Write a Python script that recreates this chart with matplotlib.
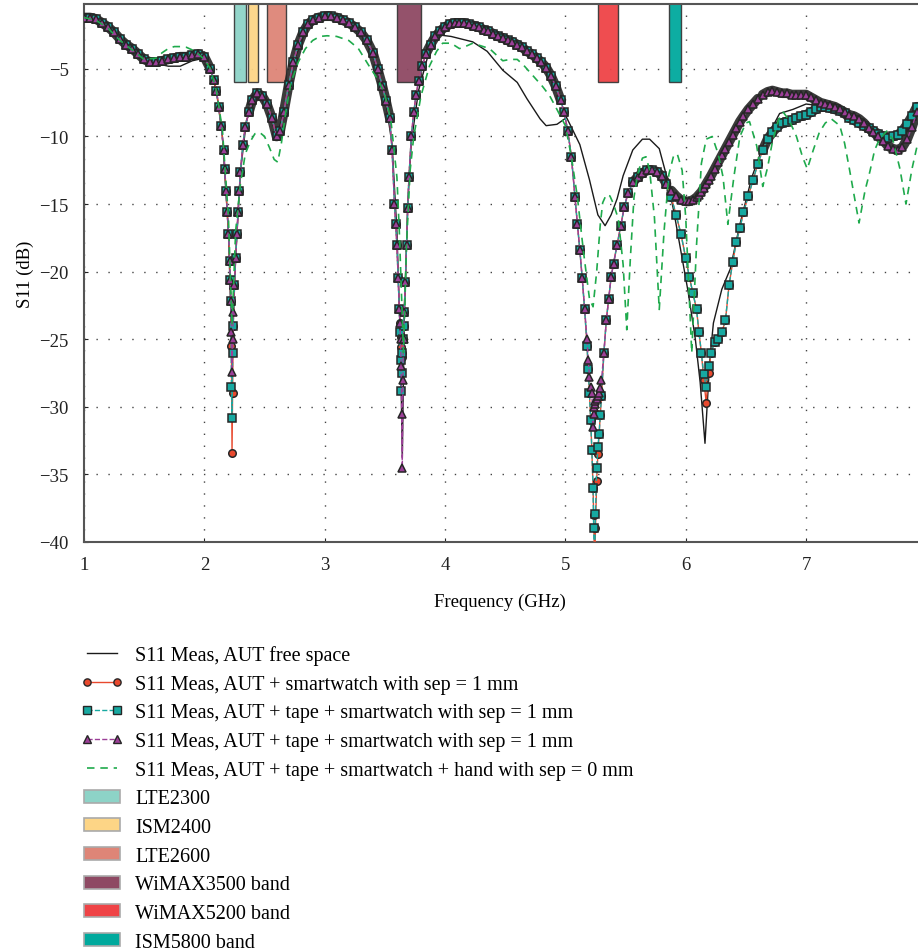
import matplotlib
matplotlib.use("Agg")
import matplotlib.pyplot as plt
from matplotlib.patches import Patch
from matplotlib.lines import Line2D
from matplotlib.legend_handler import HandlerLine2D

plt.rcParams['font.family'] = ['Liberation Serif', 'DejaVu Serif']

# ---------------- data ----------------
# shared sweep segments (GHz) and S11 (dB)
f_A = [1.00, 1.05, 1.10, 1.15, 1.20, 1.25, 1.30, 1.35, 1.40, 1.45, 1.50, 1.55, 1.60, 1.65, 1.70,
       1.75, 1.80, 1.85, 1.90, 1.95, 2.00, 2.05]
s_A = [-1.2, -1.2, -1.3, -1.6, -1.9, -2.3, -2.8, -3.2, -3.5, -3.9, -4.3, -4.5, -4.5, -4.4, -4.3,
       -4.2, -4.1, -4.1, -4.0, -3.9, -4.1, -5.0]

f_B = [2.08, 2.10, 2.12, 2.14, 2.16, 2.17, 2.18, 2.19, 2.20, 2.21, 2.215, 2.22, 2.225, 2.23, 2.235,
       2.24, 2.25, 2.26, 2.27, 2.28, 2.29, 2.30, 2.32, 2.34]
s_B_watch = [-5.8, -6.6, -7.8, -9.2, -11.0, -12.4, -14.0, -15.6, -17.2, -19.2, -20.6, -22.2, -25.5, -33.4, -29.0,
             -24.0, -21.0, -19.0, -17.2, -15.6, -14.0, -12.6, -10.6, -9.3]
s_B_tape = [-5.8, -6.6, -7.8, -9.2, -11.0, -12.4, -14.0, -15.6, -17.2, -19.2, -20.6, -22.2, -28.5, -30.8, -26.0,
            -24.0, -21.0, -19.0, -17.2, -15.6, -14.0, -12.6, -10.6, -9.3]
s_B_tape2 = [-5.8, -6.6, -7.8, -9.2, -11.0, -12.4, -14.0, -15.6, -17.2, -19.2, -20.6, -22.2, -24.5, -27.4, -25.0,
             -23.0, -21.0, -19.0, -17.2, -15.6, -14.0, -12.6, -10.6, -9.3]

f_C = [2.37, 2.40, 2.44, 2.48, 2.52, 2.56, 2.60, 2.63, 2.66, 2.70, 2.74, 2.78, 2.82, 2.86, 2.90,
       2.95, 3.00, 3.05, 3.10, 3.15, 3.20, 3.25, 3.30, 3.35, 3.40, 3.44, 3.48, 3.51, 3.54]
s_C = [-8.2, -7.3, -6.8, -7.0, -7.6, -8.6, -10.0, -9.6, -8.2, -6.2, -4.5, -3.2, -2.3, -1.7, -1.4,
       -1.2, -1.1, -1.1, -1.2, -1.4, -1.6, -1.9, -2.3, -2.9, -3.8, -5.0, -6.3, -7.4, -8.6]

f_D = [3.56, 3.58, 3.59, 3.60, 3.61, 3.62, 3.625, 3.63, 3.635, 3.64, 3.645, 3.65, 3.655, 3.66, 3.67,
       3.68, 3.69, 3.70, 3.72, 3.74, 3.76, 3.78, 3.81]
s_D_watch = [-11.0, -15.0, -16.5, -18.0, -20.5, -22.8, -23.8, -24.8, -25.6, -26.3, -26.0, -25.0, -24.0, -23.0, -20.8,
             -18.0, -15.3, -13.0, -10.0, -8.2, -6.9, -5.9, -4.8]
s_D_tape = [-11.0, -15.0, -16.5, -18.0, -20.5, -22.8, -24.5, -26.5, -28.8, -27.5, -26.0, -25.0, -24.0, -23.0, -20.8,
            -18.0, -15.3, -13.0, -10.0, -8.2, -6.9, -5.9, -4.8]
s_D_tape2 = [-11.0, -15.0, -16.5, -18.0, -20.5, -22.8, -23.8, -25.0, -27.0, -30.5, -34.5, -28.0, -25.0, -23.0, -20.8,
             -18.0, -15.3, -13.0, -10.0, -8.2, -6.9, -5.9, -4.8]

f_E = [3.84, 3.88, 3.92, 3.96, 4.00, 4.04, 4.08, 4.12, 4.16, 4.20, 4.24, 4.28, 4.32, 4.36, 4.40,
       4.44, 4.48, 4.52, 4.56, 4.60, 4.64, 4.68, 4.72, 4.76, 4.80, 4.84, 4.88, 4.92, 4.96]
s_E = [-3.9, -3.2, -2.6, -2.2, -1.9, -1.7, -1.6, -1.6, -1.6, -1.7, -1.8, -1.9, -2.1, -2.2, -2.4,
       -2.6, -2.7, -2.9, -3.0, -3.2, -3.4, -3.7, -3.9, -4.2, -4.5, -4.9, -5.5, -6.3, -7.3]

f_F = [4.99, 5.02, 5.05, 5.08, 5.10, 5.12, 5.14, 5.16, 5.18, 5.19, 5.20, 5.21, 5.22, 5.23, 5.235,
       5.24, 5.245, 5.25, 5.26, 5.27, 5.28, 5.29, 5.30, 5.32, 5.34, 5.36, 5.38, 5.40, 5.43, 5.46,
       5.49, 5.52]
s_F_watch = [-8.2, -9.6, -11.5, -14.5, -16.5, -18.4, -20.5, -22.8, -25.5, -27.2, -29.0, -31.0, -33.2, -36.0, -38.0,
             -40.5, -41.0, -39.0, -35.5, -33.5, -32.0, -30.6, -29.2, -26.0, -23.6, -22.0, -20.4, -19.4, -18.0, -16.6,
             -15.2, -14.2]
s_F_tape = [-8.2, -9.6, -11.5, -14.5, -16.5, -18.4, -20.5, -22.8, -25.5, -27.2, -29.0, -31.0, -33.2, -36.0, -39.0,
            -41.0, -40.5, -37.9, -34.5, -33.0, -32.0, -30.6, -29.2, -26.0, -23.6, -22.0, -20.4, -19.4, -18.0, -16.6,
            -15.2, -14.2]
s_F_tape2 = [-8.2, -9.6, -11.5, -14.5, -16.5, -18.4, -20.5, -22.8, -25.0, -26.5, -27.8, -28.5, -29.0, -31.5, -30.5,
             -30.0, -29.8, -29.6, -29.4, -29.2, -29.0, -28.6, -28.0, -26.0, -23.6, -22.0, -20.4, -19.4, -18.0, -16.6,
             -15.2, -14.2]

f_G = [5.56, 5.60, 5.64, 5.68, 5.72, 5.76, 5.80, 5.84]
s_G = [-13.4, -13.0, -12.7, -12.5, -12.5, -12.6, -12.9, -13.5]

f_H = [5.88, 5.92, 5.96, 6.00, 6.03, 6.06, 6.09, 6.11, 6.13, 6.15, 6.17, 6.19, 6.21, 6.24, 6.27,
       6.30, 6.33, 6.36, 6.39, 6.42, 6.45, 6.48, 6.52, 6.56, 6.60]
s_H_watch = [-14.5, -15.8, -17.2, -19.0, -20.4, -21.6, -22.8, -24.5, -26.0, -28.0, -29.7, -27.5, -26.0, -25.2, -25.0,
             -24.5, -23.6, -21.0, -19.3, -17.8, -16.8, -15.6, -14.4, -13.2, -12.0]
s_H_tape = [-14.5, -15.8, -17.2, -19.0, -20.4, -21.6, -22.8, -24.5, -26.0, -27.6, -28.5, -27.0, -26.0, -25.2, -25.0,
            -24.5, -23.6, -21.0, -19.3, -17.8, -16.8, -15.6, -14.4, -13.2, -12.0]
s_H_tape2 = [-14.0, -14.4, -14.7, -14.8, -14.8, -14.7, -14.5, -14.3, -14.1, -13.8, -13.5, -13.2, -12.9, -12.4, -11.9,
             -11.4, -10.9, -10.4, -9.9, -9.4, -8.9, -8.5, -8.0, -7.6, -7.2]

f_I = [6.64, 6.68, 6.72, 6.76, 6.80, 6.84, 6.88, 6.92, 6.96, 7.00, 7.04, 7.08, 7.12, 7.16, 7.20,
       7.24, 7.28, 7.32, 7.36, 7.40, 7.44, 7.48, 7.52, 7.56, 7.60, 7.64, 7.68, 7.72, 7.76, 7.80,
       7.84, 7.88, 7.92]
s_I_low = [-11.0, -10.2, -9.7, -9.3, -9.0, -8.9, -8.8, -8.6, -8.5, -8.4, -8.2, -8.0, -7.8, -7.8, -7.9,
           -8.0, -8.1, -8.3, -8.6, -8.8, -9.0, -9.2, -9.4, -9.6, -9.8, -10.0, -10.1, -10.0, -9.9, -9.6,
           -9.1, -8.5, -7.8]
s_I_high = [-6.9, -6.7, -6.6, -6.7, -6.8, -6.8, -6.9, -6.9, -6.9, -6.9, -7.1, -7.3, -7.5, -7.6, -7.7,
            -7.8, -8.0, -8.2, -8.4, -8.5, -8.7, -9.0, -9.4, -9.7, -10.0, -10.3, -10.7, -10.9, -11.0, -10.8,
            -10.2, -9.3, -8.2]

freq = f_A + f_B + f_C + f_D + f_E + f_F + f_G + f_H + f_I
s11_watch = s_A + s_B_watch + s_C + s_D_watch + s_E + s_F_watch + s_G + s_H_watch + s_I_low
s11_tape = s_A + s_B_tape + s_C + s_D_tape + s_E + s_F_tape + s_G + s_H_tape + s_I_low
s11_tape2 = s_A + s_B_tape2 + s_C + s_D_tape2 + s_E + s_F_tape2 + s_G + s_H_tape2 + s_I_high

# free-space antenna
f_free = [1.0, 1.1, 1.2, 1.3, 1.4, 1.5, 1.6, 1.7, 1.8, 1.9, 2.0, 2.05, 2.1, 2.15, 2.2, 2.23, 2.26, 2.3, 2.35,
          2.44, 2.52, 2.6, 2.66, 2.74, 2.86, 3.0, 3.15, 3.3, 3.4, 3.5, 3.56, 3.6, 3.63, 3.645, 3.66, 3.69,
          3.72, 3.78, 3.88, 3.96, 4.05, 4.23, 4.35, 4.48, 4.6, 4.68, 4.79, 4.84, 4.93, 5.01, 5.06, 5.12,
          5.2, 5.27, 5.33, 5.38, 5.43, 5.48, 5.56, 5.64, 5.7, 5.78, 5.84, 5.9, 5.96, 6.02, 6.08, 6.12,
          6.16, 6.2, 6.23, 6.3, 6.37, 6.45, 6.55, 6.65, 6.78, 6.89, 7.0, 7.09, 7.2, 7.3, 7.4, 7.5, 7.6,
          7.7, 7.8, 7.92]
s_free = [-1.2, -1.3, -1.9, -2.8, -3.5, -4.3, -4.6, -4.8, -4.8, -4.4, -4.2, -5.0, -6.6, -10.0, -17.0, -26.0, -19.0, -12.6, -8.8,
          -6.9, -7.7, -10.0, -8.2, -4.5, -1.8, -1.2, -1.5, -2.4, -3.9, -7.0, -10.6, -17.0, -25.5, -33.7, -24.0, -15.0,
          -10.4, -6.6, -3.3, -2.5, -2.6, -3.0, -3.7, -5.1, -6.0, -7.2, -8.7, -9.2, -9.1, -8.6, -9.5, -10.6,
          -13.2, -15.8, -16.6, -15.8, -14.6, -12.9, -11.0, -10.2, -10.2, -10.9, -12.9, -15.5, -18.5, -21.5, -25.0, -28.2,
          -32.7, -26.5, -23.8, -21.3, -19.8, -16.5, -13.0, -10.5, -8.3, -8.0, -7.6, -7.7, -8.0, -8.3, -8.7, -9.3, -9.8,
          -10.1, -9.8, -8.4]

# antenna + tape + smartwatch + hand
f_hand = [1.0, 1.1, 1.2, 1.3, 1.4, 1.5, 1.6, 1.65, 1.7, 1.75, 1.8, 1.85, 1.9, 1.95, 2.0, 2.05, 2.1, 2.15, 2.2,
          2.23, 2.26, 2.3, 2.34, 2.38, 2.42, 2.46, 2.5, 2.54, 2.58, 2.61, 2.64, 2.68, 2.72, 2.78, 2.84, 2.9,
          2.96, 3.02, 3.1, 3.2, 3.28, 3.37, 3.45, 3.5, 3.55, 3.6, 3.62, 3.655, 3.68, 3.71, 3.74, 3.8, 3.87,
          3.93, 3.98, 4.05, 4.12, 4.18, 4.23, 4.3, 4.37, 4.43, 4.48, 4.54, 4.6, 4.65, 4.7, 4.76, 4.81, 4.87,
          4.93, 5.0, 5.05, 5.1, 5.15, 5.2, 5.23, 5.26, 5.29, 5.31, 5.34, 5.37, 5.4, 5.44, 5.48, 5.51, 5.54,
          5.57, 5.6, 5.64, 5.67, 5.7, 5.74, 5.78, 5.82, 5.86, 5.9, 5.93, 5.97, 6.0, 6.05, 6.09, 6.13, 6.17,
          6.22, 6.27, 6.31, 6.35, 6.4, 6.45, 6.5, 6.53, 6.59, 6.64, 6.68, 6.72, 6.77, 6.81, 6.86, 6.92,
          6.97, 7.01, 7.06, 7.11, 7.16, 7.21, 7.28, 7.32, 7.36, 7.44, 7.49, 7.53, 7.57, 7.61, 7.67, 7.72,
          7.78, 7.83, 7.88, 7.92]
s_hand = [-1.2, -1.4, -2.0, -2.9, -3.6, -4.3, -4.2, -3.8, -3.5, -3.35, -3.35, -3.4, -3.6, -3.9, -4.3, -5.0, -6.6, -9.5, -16.0,
          -24.0, -17.0, -13.5, -11.3, -10.4, -9.8, -9.7, -10.0, -10.8, -11.7, -11.9, -10.5, -8.0, -6.0, -4.5, -3.5, -2.9,
          -2.6, -2.55, -2.6, -2.9, -3.5, -4.8, -5.9, -6.9, -8.8, -13.0, -17.0, -26.0, -18.0, -12.5, -10.0, -7.0, -4.8,
          -3.7, -3.1, -3.1, -3.5, -3.3, -3.1, -3.3, -3.5, -4.0, -4.4, -4.3, -4.3, -4.7, -5.2, -5.8, -6.3, -7.0,
          -8.0, -9.2, -11.5, -14.5, -18.5, -22.0, -22.6, -20.0, -16.5, -14.9, -14.3, -14.4, -15.0, -16.1, -19.5, -24.3, -19.0,
          -14.5, -12.8, -11.6, -11.5, -12.5, -16.0, -22.8, -17.0, -12.8, -11.4, -11.3, -12.5, -16.0, -26.0, -18.0, -12.0, -10.2,
          -10.0, -11.3, -13.0, -16.5, -13.0, -10.0, -9.0, -8.9, -10.7, -13.7, -12.3, -10.4, -8.8, -8.2, -8.8, -10.0,
          -11.5, -12.4, -11.0, -9.7, -9.0, -8.7, -9.2, -10.5, -12.4, -16.4, -14.0, -12.6, -11.0, -10.2, -9.6, -10.2,
          -12.4, -15.0, -12.4, -10.8]

# frequency bands
band_names = ['LTE2300', 'ISM2400', 'LTE2600', 'WiMAX3500 band', 'WiMAX5200 band', 'ISM5800 band']
band_start = [2.25, 2.36, 2.52, 3.60, 5.27, 5.86]
band_stop = [2.35, 2.445, 2.675, 3.80, 5.435, 5.96]
band_top = 0.0
band_bottom = -6.0
band_colors = ['#8DD3C7', '#FDD586', '#DE8577', '#8E4963', '#EF4346', '#00A99D']

labels = ['S11 Meas, AUT free space',
          'S11 Meas, AUT + smartwatch with sep = 1 mm',
          'S11 Meas, AUT + tape + smartwatch with sep = 1 mm',
          'S11 Meas, AUT + tape + smartwatch with sep = 1 mm',
          'S11 Meas, AUT + tape + smartwatch + hand with sep = 0 mm']

# ---------------- figure ----------------
W, H = 918, 953
fig = plt.figure(figsize=(W / 100, H / 100), dpi=100)
ax = fig.add_axes([84 / W, (H - 543) / H, (W - 84) / W, 538 / H])

red = '#E8492E'
teal = '#17A9A1'
purple = '#9C3F98'
green = '#1FAA4C'
edge = '#262626'

for a, b, c in zip(band_start, band_stop, band_colors):
    ax.bar(a, band_top - band_bottom, width=b - a, bottom=band_bottom, align='edge',
           color=c, edgecolor='#3A3A3A', linewidth=1.0, alpha=0.95, zorder=2)

ax.plot(f_free, s_free, color='#1A1A1A', lw=1.0, zorder=3)

# dark band where the dense marker outlines overlap (slowly varying parts of the sweep)
flat_parts = [(f_A, s_A), (f_C, s_C), (f_E, s_E), (f_G, s_G), (f_H, s_H_tape2),
              (f_I, s_I_low), (f_I, s_I_high)]
for fx, sy in flat_parts:
    ax.plot(fx, sy, color='#262626', lw=7, solid_joinstyle='round', solid_capstyle='round',
            alpha=0.9, zorder=3.5)

ax.plot(freq, s11_watch, '-', color=red, lw=1.0, marker='o', ms=5.4, mfc=red, mec=edge, mew=1.1, zorder=4)
ax.plot(freq, s11_tape, '--', color=teal, lw=1.0, marker='s', ms=5.8, mfc=teal, mec=edge, mew=1.1, zorder=5)
ax.plot(freq, s11_tape2, '--', color=purple, lw=1.0, marker='^', ms=5.8, mfc=purple, mec=edge, mew=1.1, zorder=6)
ax.plot(f_hand, s_hand, color=green, lw=1.2, ls=(0, (4.5, 3.5)), zorder=7)

ax.set_xlim(1, 7.93)
ax.set_ylim(-40, -0.2)
ax.set_xticks([1, 2, 3, 4, 5, 6, 7])
ax.set_yticks([-5, -10, -15, -20, -25, -30, -35, -40])
ax.tick_params(direction='in', length=3, labelsize=13.5, colors='#222222')
ax.tick_params(axis='x', pad=10)
ax.tick_params(axis='y', pad=11)
ax.grid(True, ls=(0, (1, 7.6)), color='#444444', lw=1.0, zorder=1)
ax.set_axisbelow(True)
for side in ['top', 'left', 'bottom']:
    ax.spines[side].set_color('#555555')
    ax.spines[side].set_linewidth(1.5)
ax.spines['right'].set_visible(False)

ax.set_xlabel('Frequency (GHz)', fontsize=13.5)
ax.set_ylabel('S11 (dB)', fontsize=13.5)
ax.xaxis.set_label_coords((500 - 84) / 834, (543 - 594) / 538)
ax.yaxis.set_label_coords((34 - 84) / 834, 0.5)

handles = [
    Line2D([], [], color='#1A1A1A', lw=1.0),
    Line2D([], [], color=red, lw=1.0, marker='o', ms=5.2, mfc=red, mec=edge, mew=1.0),
    Line2D([], [], color=teal, lw=1.0, ls='--', marker='s', ms=5.4, mfc=teal, mec=edge, mew=1.0),
    Line2D([], [], color=purple, lw=1.0, ls='--', marker='^', ms=5.6, mfc=purple, mec=edge, mew=1.0),
    Line2D([], [], color=green, lw=1.2, ls=(0, (4.5, 3.5))),
]
for c in band_colors:
    handles.append(Patch(facecolor=c, edgecolor='#AAAAAA', linewidth=1.2))

hmap = {h: HandlerLine2D(marker_pad=0.15) for h in handles[:5]}
fig.legend(handles, labels + band_names, loc='upper left', handler_map=hmap,
           bbox_to_anchor=(84 / W, 1 - 646 / H), frameon=False, fontsize=14.5,
           numpoints=2, handlelength=1.8, handleheight=0.6, handletextpad=0.75, labelspacing=0.48,
           borderpad=0, borderaxespad=0)

fig.savefig('out.png', dpi=100)
